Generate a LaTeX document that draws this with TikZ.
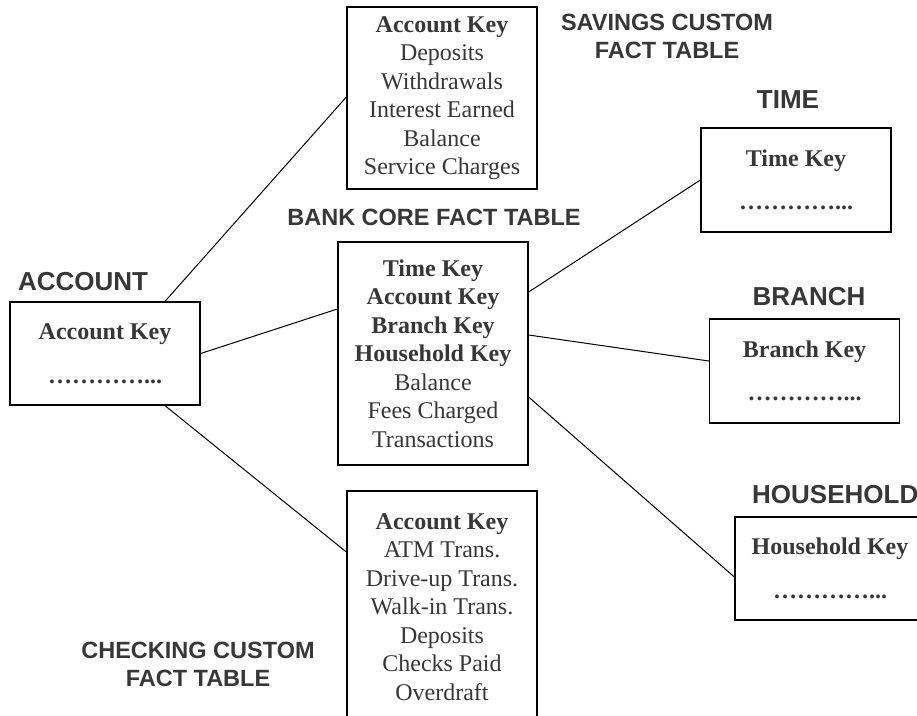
\documentclass[tikz,border=0pt]{standalone}
\usepackage{fontspec}
\setmainfont{Liberation Serif}
\setsansfont{Liberation Sans}
\usetikzlibrary{calc}
\definecolor{ink}{RGB}{55,55,55}
\tikzset{
  tbl/.style={draw=black, line width=1.3pt, align=center, text=ink, minimum width=190pt, inner sep=0pt, font=\fontsize{24}{28.5}\selectfont},
  lbl/.style={text=ink, align=center, inner sep=0pt, font=\sffamily\bfseries\fontsize{23.5}{28}\selectfont},
  dimlbl/.style={lbl, font=\sffamily\bfseries\fontsize{26}{28}\selectfont},
  link/.style={draw=black, line width=1pt},
}
\begin{document}
\begin{tikzpicture}[x=1pt,y=-1pt]
\useasboundingbox (0,0) rectangle (917,715);
\clip (0,0) rectangle (917,715);
\fill[white] (0,0) rectangle (917,715);

% tables
\node[tbl, minimum height=182pt] (sav) at (442,98)
  {\textbf{Account Key}\\Deposits\\Withdrawals\\Interest Earned\\Balance\\Service Charges};
\node[tbl, minimum height=223pt] (core) at (433,353.5)
  {\textbf{Time Key}\\\textbf{Account Key}\\\textbf{Branch Key}\\\textbf{Household Key}\\Balance\\Fees Charged\\Transactions};
\node[tbl, minimum height=232pt] (chk) at (442,607)
  {\textbf{Account Key}\\ATM Trans.\\Drive-up Trans.\\Walk-in Trans.\\Deposits\\Checks Paid\\Overdraft};
\node[tbl, minimum height=103pt] (acc) at (105,353.5)
  {\textbf{Account Key}\\[15pt]\textbf{…………...}};
\node[tbl, minimum height=104pt] (time) at (796,180)
  {\textbf{Time Key}\\[15pt]\textbf{…………...}};
\node[tbl, minimum height=104pt] (branch) at (804.5,371)
  {\textbf{Branch Key}\\[15pt]\textbf{…………...}};
\node[tbl, minimum height=103pt] (hh) at (830,568.5)
  {\textbf{Household Key}\\[15pt]\textbf{…………...}};

% labels
\node[lbl] (lsav) at (667,36) {SAVINGS CUSTOM\\FACT TABLE};
\node[dimlbl] (ltime) at (788,100) {TIME};
\node[lbl] (lcore) at (434,217) {BANK CORE FACT TABLE};
\node[dimlbl] (lacc) at (83,282) {ACCOUNT};
\node[dimlbl] (lbranch) at (809,297) {BRANCH};
\node[dimlbl, anchor=west] (lhh) at (752,495) {HOUSEHOLD};
\node[lbl] (lchk) at (198,664) {CHECKING CUSTOM\\FACT TABLE};

% connectors
\draw[link] ([xshift=60pt]acc.north) -- ([yshift=1pt]sav.west);
\draw[link] (acc.east) -- ([yshift=44.5pt]core.west);
\draw[link] ([xshift=60pt]acc.south) -- ([yshift=55pt]chk.west);
\draw[link] ([yshift=61.5pt]core.east) -- (time.west);
\draw[link] ([yshift=18.5pt]core.east) -- ([yshift=10pt]branch.west);
\draw[link] ([yshift=-43.5pt]core.east) -- ([yshift=-8.5pt]hh.west);
\end{tikzpicture}
\end{document}
